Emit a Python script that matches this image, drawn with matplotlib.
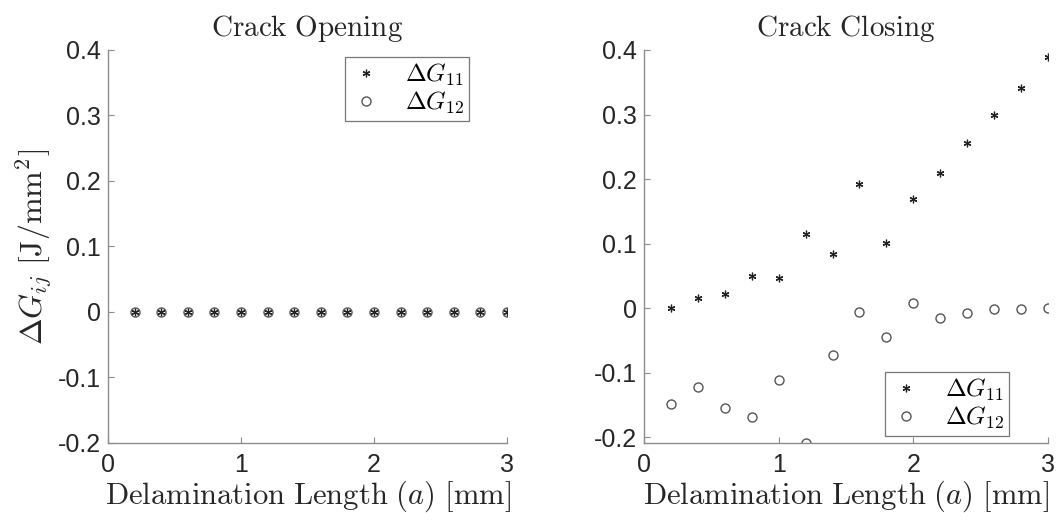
import numpy as np
import matplotlib
matplotlib.use('Agg')
import matplotlib.pyplot as plt

plt.rcParams['mathtext.fontset'] = 'cm'
plt.rcParams['font.family'] = ['Liberation Sans', 'DejaVu Sans']

# delamination length a [mm]
a = [0.2, 0.4, 0.6, 0.8, 1.0, 1.2, 1.4, 1.6, 1.8, 2.0, 2.2, 2.4, 2.6, 2.8, 3.0]

# crack opening: both components zero
open_G11 = [0.0] * 15
open_G12 = [0.0] * 15

# crack closing
close_G11 = [0.0, 0.0165, 0.0217, 0.0506, 0.0465, 0.1156, 0.0846, 0.1925,
             0.1011, 0.169, 0.209, 0.2565, 0.300, 0.3415, 0.3886]
close_G12 = [-0.149, -0.1227, -0.1546, -0.1686, -0.1119, -0.2088, -0.0727, -0.0052,
             -0.0443, 0.0077, -0.015, -0.0067, -0.0005, -0.0005, 0.0]

yticks = [-0.2, -0.1, 0, 0.1, 0.2, 0.3, 0.4]
ytick_labels = ['-0.2', '-0.1', '0', '0.1', '0.2', '0.3', '0.4']
xticks = [0, 1, 2, 3]

fig = plt.figure(figsize=(10.57, 5.23), dpi=100)
ax1 = fig.add_axes([0.1022, 0.153, 0.3775, 0.7514])
ax2 = fig.add_axes([0.6093, 0.153, 0.3822, 0.7514])

ast = (6, 2, 0)
axis_col = '#8c8c8c'
txt_col = '#262626'
lbl = r'$\mathrm{Delamination\ Length\ (}a\mathrm{)\ [mm]}$'


def style(ax, ybottom):
    ax.set_xlim(0, 3)
    ax.set_ylim(ybottom, 0.4)
    ax.set_xticks(xticks)
    ax.set_yticks(yticks)
    ax.set_yticklabels(ytick_labels)
    for s in ['top', 'right']:
        ax.spines[s].set_visible(False)
    for s in ['left', 'bottom']:
        ax.spines[s].set_color(axis_col)
        ax.spines[s].set_linewidth(1.0)
    ax.tick_params(direction='in', length=4, width=0.8, color=axis_col,
                   labelsize=18, labelcolor=txt_col)
    ax.tick_params(axis='x', pad=7)
    ax.tick_params(axis='y', pad=5)
    ax.set_xlabel(lbl, fontsize=22, labelpad=1, color=txt_col)


def add_legend(ax, loc, anchor):
    leg = ax.legend(loc=loc, bbox_to_anchor=anchor, fontsize=18,
                    frameon=True, fancybox=False, edgecolor='#555555',
                    handletextpad=0.9, borderpad=0.2, labelspacing=0.05,
                    handlelength=1.3, borderaxespad=0)
    leg.get_frame().set_linewidth(0.9)


# left panel
ax1.plot(a, open_G11, linestyle='none', marker=ast, ms=5.5, mec='#222222', mew=0.9,
         label=r'$\Delta G_{11}$')
ax1.plot(a, open_G12, linestyle='none', marker='o', ms=6.5, mfc='none', mec='#555555',
         mew=1.0, label=r'$\Delta G_{12}$')
style(ax1, -0.2)
ax1.set_title(r'$\mathrm{Crack\ Opening}$', fontsize=21, pad=10, color=txt_col)
ax1.set_ylabel(r'$\Delta G_{ij}\ \mathrm{[J/mm^2]}$', fontsize=23, labelpad=2, color=txt_col)
add_legend(ax1, 'upper right', (0.905, 0.982))

# right panel
ax2.plot(a, close_G11, linestyle='none', marker=ast, ms=5.5, mec='#222222', mew=0.9,
         label=r'$\Delta G_{11}$')
ax2.plot(a, close_G12, linestyle='none', marker='o', ms=6.5, mfc='none', mec='#555555',
         mew=1.0, label=r'$\Delta G_{12}$')
style(ax2, min(close_G12))
ax2.set_title(r'$\mathrm{Crack\ Closing}$', fontsize=21, pad=10, color=txt_col)
add_legend(ax2, 'lower right', (0.903, 0.018))

fig.savefig('out.png', dpi=100)
